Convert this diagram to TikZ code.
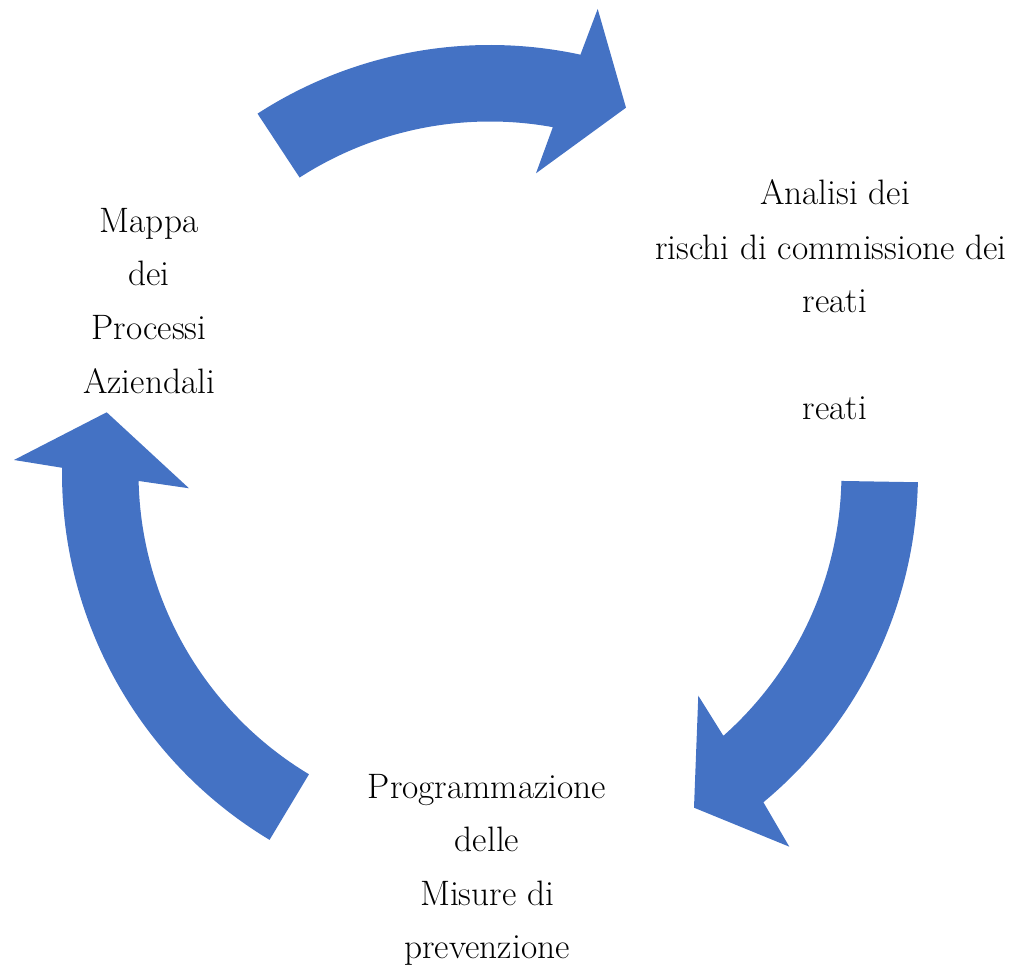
\documentclass[tikz,border=0pt]{standalone}
\definecolor{arrowblue}{HTML}{4472C4}
\begin{document}
\begin{tikzpicture}[x=0.02cm,y=0.02cm,
  cyc/.style={fill=arrowblue},
  lbl/.style={anchor=base,inner sep=0pt,font=\fontsize{20.1}{24}\selectfont}]
\useasboundingbox (0,0) rectangle (1019,969);
\coordinate (C) at (490,496);
% top arrow
\fill[cyc] ([shift={(C)}]122.9:428) arc[start angle=122.9,end angle=77.8,radius=428]
  -- (597.7,960) -- (626,861.3) -- (536,795.7)
  -- ([shift={(C)}]79.7:351.5) arc[start angle=79.7,end angle=122.8,radius=351.5] -- cycle;
% right arrow
\fill[cyc] ([shift={(C)}]-1.24:428) arc[start angle=-1.24,end angle=-50.3,radius=428]
  -- (789.3,122.3) -- (694,161.3) -- (698.3,273.3)
  -- ([shift={(C)}]-48.4:351.5) arc[start angle=-48.4,end angle=-1.3,radius=351.5] -- cycle;
% left arrow
\fill[cyc] ([shift={(C)}]239:428) arc[start angle=239,end angle=179.3,radius=428]
  -- (14,509) -- (106.7,556.7) -- (189,480.7)
  -- ([shift={(C)}]181.3:351.5) arc[start angle=181.3,end angle=239,radius=351.5] -- cycle;
% texts
\node[lbl] (m1) at (149,736.3) {Mappa};
\node[lbl] (m2) at (149,683) {dei};
\node[lbl] (m3) at (149,629.7) {Processi};
\node[lbl] (m4) at (149,575.7) {Aziendali};
\node[lbl] (a1) at (835,764) {Analisi dei};
\node[lbl] (a2) at (831,709.7) {rischi di commissione dei};
\node[lbl] (a3) at (835,656.3) {reati};
\node[lbl] (a4) at (835,549) {reati};
\node[lbl] (p1) at (487,170.7) {Programmazione};
\node[lbl] (p2) at (487,117.3) {delle};
\node[lbl] (p3) at (487,63) {Misure di};
\node[lbl] (p4) at (487,10) {prevenzione};
\end{tikzpicture}
\end{document}
